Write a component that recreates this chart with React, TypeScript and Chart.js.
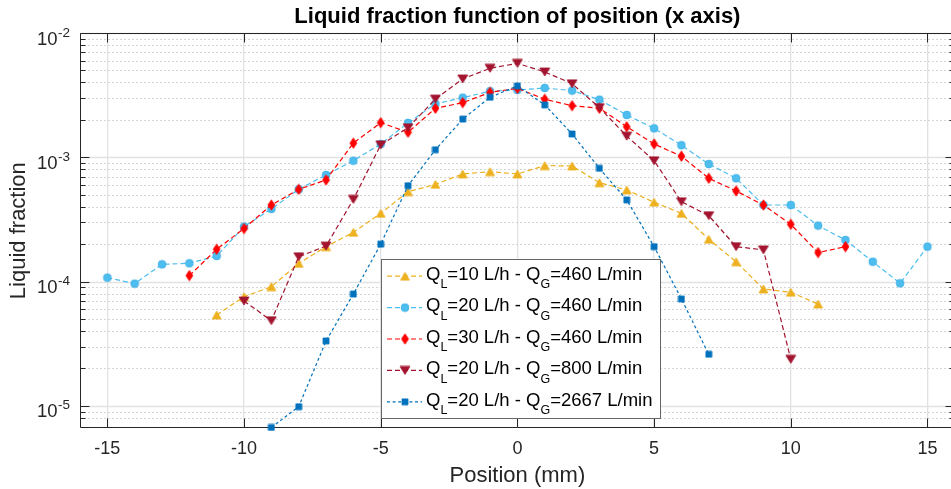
import React, { useEffect, useRef } from 'react';
import { Chart, registerables } from 'chart.js';

Chart.register(...registerables);

const FONT = '"Liberation Sans", Arial, Helvetica, sans-serif';

const TITLE = 'Liquid fraction function of position (x axis)';
const X_LABEL = 'Position (mm)';
const Y_LABEL = 'Liquid fraction';

const qlLabels = ['10', '20', '30', '20', '20'];
const qgLabels = ['460', '460', '460', '800', '2667'];

const posQL10 = [-11, -10, -9, -8, -7, -6, -5, -4, -3, -2, -1, 0, 1, 2, 3, 4, 5, 6, 7, 8, 9, 10, 11];
const valQL10 = [5.38e-5, 7.56e-5, 9.1e-5, 1.4e-4, 1.91e-4, 2.49e-4, 3.54e-4, 5.29e-4, 6.05e-4, 7.34e-4, 7.66e-4, 7.34e-4, 8.57e-4, 8.51e-4, 6.25e-4, 5.46e-4, 4.35e-4, 3.54e-4, 2.19e-4, 1.445e-4, 8.72e-5, 8.2e-5, 6.6e-5];

const posQL20 = [-15, -14, -13, -12, -11, -10, -9, -8, -7, -6, -5, -4, -3, -2, -1, 0, 1, 2, 3, 4, 5, 6, 7, 8, 9, 10, 11, 12, 13, 14, 15];
const valQL20 = [1.076e-4, 9.62e-5, 1.377e-4, 1.403e-4, 1.607e-4, 2.77e-4, 3.84e-4, 5.52e-4, 7.21e-4, 9.39e-4, 1.28e-3, 1.89e-3, 2.69e-3, 3.02e-3, 3.4e-3, 3.48e-3, 3.61e-3, 3.44e-3, 2.91e-3, 2.19e-3, 1.71e-3, 1.25e-3, 8.83e-4, 6.78e-4, 4.13e-4, 4.13e-4, 2.82e-4, 2.16e-4, 1.445e-4, 9.69e-5, 1.91e-4];

const posQL30 = [-12, -11, -10, -9, -8, -7, -6, -5, -4, -3, -2, -1, 0, 1, 2, 3, 4, 5, 6, 7, 8, 9, 10, 11, 12];
const valQL30 = [1.117e-4, 1.82e-4, 2.67e-4, 4.13e-4, 5.52e-4, 6.57e-4, 1.3e-3, 1.9e-3, 1.59e-3, 2.48e-3, 2.75e-3, 3.33e-3, 3.59e-3, 2.93e-3, 2.6e-3, 2.48e-3, 1.76e-3, 1.28e-3, 1.02e-3, 6.78e-4, 5.36e-4, 4.13e-4, 2.89e-4, 1.71e-4, 1.91e-4];

const posQG800 = [-10, -9, -8, -7, -6, -5, -4, -3, -2, -1, 0, 1, 2, 3, 4, 5, 6, 7, 8, 9, 10];
const valQG800 = [6.98e-5, 4.85e-5, 1.585e-4, 1.93e-4, 4.59e-4, 1.26e-3, 1.73e-3, 2.94e-3, 4.27e-3, 5.2e-3, 5.7e-3, 4.86e-3, 3.91e-3, 2.51e-3, 1.48e-3, 9.39e-4, 4.39e-4, 3.39e-4, 1.91e-4, 1.8e-4, 2.37e-5];

const posQG2667 = [-9, -8, -7, -6, -5, -4, -3, -2, -1, 0, 1, 2, 3, 4, 5, 6, 7];
const valQG2667 = [6.7e-6, 9.86e-6, 3.33e-5, 7.94e-5, 2.0e-4, 5.91e-4, 1.15e-3, 2.03e-3, 3.04e-3, 3.75e-3, 2.64e-3, 1.54e-3, 8.15e-4, 4.54e-4, 1.91e-4, 7.24e-5, 2.6e-5];

const X_MIN = -16;
const X_MAX = 16;
const Y_MIN = 6.6e-6;
const Y_MAX = 1e-2;

const seriesColors = ['#EDB120', '#4DBEEE', '#FF0000', '#A2142F', '#0072BD'];
const seriesEdges = ['#EDB120', '#3AADE6', '#FF0000', '#A2142F', '#0072BD'];
const seriesMarkers = ['triUp', 'circle', 'diamond', 'triDown', 'square'];
const seriesDash = [[5, 3], [5, 3], [5, 3], [5, 3], [3, 2.6]];

function makeMarker(kind: string, color: string, edge: string): HTMLCanvasElement {
  const c = document.createElement('canvas');
  const sizes: Record<string, [number, number]> = {
    triUp: [11, 10],
    circle: [10, 10],
    diamond: [9, 12],
    triDown: [12, 10],
    square: [8, 8],
  };
  const [w, h] = sizes[kind];
  c.width = w;
  c.height = h;
  const g = c.getContext('2d')!;
  g.fillStyle = color;
  g.strokeStyle = edge;
  g.lineWidth = 0.8;
  g.beginPath();
  if (kind === 'triUp') {
    g.moveTo(5.5, 1);
    g.lineTo(10, 9);
    g.lineTo(1, 9);
    g.closePath();
  } else if (kind === 'circle') {
    g.arc(5, 5, 3.9, 0, Math.PI * 2);
  } else if (kind === 'diamond') {
    g.moveTo(4.5, 0.8);
    g.lineTo(8, 6);
    g.lineTo(4.5, 11.2);
    g.lineTo(1, 6);
    g.closePath();
  } else if (kind === 'triDown') {
    g.moveTo(1, 1);
    g.lineTo(11, 1);
    g.lineTo(6, 9);
    g.closePath();
  } else {
    g.rect(1, 1, 6, 6);
  }
  g.fill();
  g.stroke();
  return c;
}

function isSignificandInt(v: number) {
  const e = Math.floor(Math.log10(v) + 1e-9);
  const s = v / Math.pow(10, e);
  return { ok: Math.abs(s - Math.round(s)) < 1e-6, s: Math.round(s), e };
}

export default function App() {
  const ref = useRef<HTMLCanvasElement | null>(null);

  useEffect(() => {
    const canvas = ref.current;
    if (!canvas) return;
    const markers = seriesMarkers.map((m, i) => makeMarker(m, seriesColors[i], seriesEdges[i]));
    const allPos = [posQL10, posQL20, posQL30, posQG800, posQG2667];
    const allVal = [valQL10, valQL20, valQL30, valQG800, valQG2667];

    const datasets = allPos.map((pos, i) => ({
      label: `QL=${qlLabels[i]} L/h - QG=${qgLabels[i]} L/min`,
      data: pos.map((p, j) => ({ x: p, y: allVal[i][j] })),
      borderColor: seriesColors[i],
      backgroundColor: seriesColors[i],
      borderWidth: 1.2,
      borderDash: seriesDash[i],
      pointStyle: markers[i],
      pointRadius: 4,
      showLine: true,
      fill: false,
      tension: 0,
      clip: false as any,
      order: 5 - i,
    }));

    const axisColor = '#262626';

    const matlabPlugin = {
      id: 'matlabAxes',
      beforeDatasetsDraw(chart: any) {
        const { ctx, chartArea: a, scales } = chart;
        const x = scales.x;
        const y = scales.y;
        ctx.save();
        for (const t of y.ticks) {
          const info = isSignificandInt(t.value);
          if (!info.ok) continue;
          const py = Math.round(y.getPixelForValue(t.value)) + 0.5;
          if (py < a.top - 0.5 || py > a.bottom + 0.5) continue;
          ctx.beginPath();
          if (info.s === 1) {
            ctx.setLineDash([]);
            ctx.strokeStyle = '#e2e2e2';
            ctx.lineWidth = 1.3;
          } else {
            ctx.setLineDash([2, 2]);
            ctx.strokeStyle = '#d6d6d6';
            ctx.lineWidth = 1;
          }
          ctx.moveTo(a.left, py);
          ctx.lineTo(a.right, py);
          ctx.stroke();
        }
        ctx.setLineDash([]);
        ctx.strokeStyle = axisColor;
        ctx.lineWidth = 1;
        ctx.beginPath();
        const L = Math.round(a.left) + 0.5;
        const T = Math.round(a.top) + 0.5;
        const B = Math.round(a.bottom) - 0.5;
        const R = Math.round(a.right) - 0.5;
        ctx.moveTo(L, T);
        ctx.lineTo(R, T);
        ctx.lineTo(R, B);
        ctx.lineTo(L, B);
        ctx.closePath();
        ctx.stroke();
        ctx.beginPath();
        for (const t of x.ticks) {
          const px = Math.round(x.getPixelForValue(t.value)) + 0.5;
          ctx.moveTo(px, B);
          ctx.lineTo(px, B - 9);
          ctx.moveTo(px, T);
          ctx.lineTo(px, T + 9);
        }
        for (const t of y.ticks) {
          const info = isSignificandInt(t.value);
          if (!info.ok) continue;
          const py = Math.round(y.getPixelForValue(t.value)) + 0.5;
          if (py < a.top - 0.5 || py > a.bottom + 0.5) continue;
          const len = info.s === 1 ? 9 : 5;
          ctx.moveTo(L, py);
          ctx.lineTo(L + len, py);
          ctx.moveTo(R, py);
          ctx.lineTo(R - len, py);
        }
        ctx.stroke();
        ctx.restore();
      },
      afterDraw(chart: any) {
        const { ctx, scales } = chart;
        const y = scales.y;
        ctx.save();
        ctx.fillStyle = axisColor;
        ctx.textBaseline = 'alphabetic';
        ctx.textAlign = 'left';
        for (const t of y.ticks) {
          const info = isSignificandInt(t.value);
          if (!info.ok || info.s !== 1) continue;
          const py = y.getPixelForValue(t.value);
          ctx.font = `18.5px ${FONT}`;
          const baseX = 37;
          ctx.fillText('10', baseX, py + 11.5);
          const w = ctx.measureText('10').width;
          ctx.font = `13.5px ${FONT}`;
          ctx.fillText(String(info.e), baseX + w + 0.5, py + 3.5);
        }
        const bx = 381.5, by = 259.5, bw = 279, bh = 159;
        ctx.fillStyle = '#ffffff';
        ctx.fillRect(bx, by, bw, bh);
        ctx.strokeStyle = '#666666';
        ctx.lineWidth = 1;
        ctx.strokeRect(bx, by, bw, bh);
        for (let i = 0; i < 5; i++) {
          const base = 280 + i * 31.4;
          const rowY = base - 3.8;
          ctx.save();
          ctx.strokeStyle = seriesColors[i];
          ctx.lineWidth = 1.2;
          ctx.setLineDash(seriesDash[i]);
          ctx.beginPath();
          ctx.moveTo(387, rowY);
          ctx.lineTo(422, rowY);
          ctx.stroke();
          ctx.restore();
          const m = markers[i];
          ctx.drawImage(m, 405 - m.width / 2, rowY - m.height / 2);
          const parts: [string, boolean][] = [
            ['Q', false], ['L', true], [`=${qlLabels[i]} L/h - `, false],
            ['Q', false], ['G', true], [`=${qgLabels[i]} L/min`, false],
          ];
          let tx = 426;
          ctx.fillStyle = '#000000';
          for (const [txt, sub] of parts) {
            ctx.font = sub ? `12.5px ${FONT}` : `18.5px ${FONT}`;
            ctx.fillText(txt, tx, sub ? base + 8.3 : base);
            tx += ctx.measureText(txt).width;
          }
        }
        ctx.restore();
      },
    };

    const chart = new Chart(canvas, {
      type: 'line',
      data: { datasets: datasets as any },
      options: {
        responsive: false,
        animation: false,
        devicePixelRatio: 1,
        events: [],
        layout: { padding: 0 },
        plugins: {
          legend: { display: false },
          tooltip: { enabled: false },
          title: {
            display: true,
            text: TITLE,
            fullSize: false,
            color: '#000000',
            font: { family: FONT, size: 22, weight: 'bold' },
            padding: { top: 4, bottom: 2.6 },
          },
        },
        scales: {
          x: {
            type: 'linear',
            min: X_MIN,
            max: X_MAX,
            ticks: {
              stepSize: 5,
              includeBounds: false,
              color: axisColor,
              font: { family: FONT, size: 18 },
              padding: 10,
              maxRotation: 0,
            },
            grid: { color: '#e2e2e2', lineWidth: 1.3, drawTicks: false },
            border: { display: false },
            title: {
              display: true,
              text: X_LABEL,
              color: axisColor,
              font: { family: FONT, size: 22 },
              padding: { top: 0, bottom: 0 },
            },
            afterFit: (s: any) => {
              s.height = 60.7;
            },
          },
          y: {
            type: 'logarithmic',
            min: Y_MIN,
            max: Y_MAX,
            ticks: { display: false },
            grid: { display: false },
            border: { display: false },
            title: {
              display: true,
              text: Y_LABEL,
              color: axisColor,
              font: { family: FONT, size: 22 },
              padding: { top: 6, bottom: 0 },
            },
            afterFit: (s: any) => {
              s.width = 80;
            },
          },
        },
      } as any,
      plugins: [matlabPlugin],
    });

    return () => chart.destroy();
  }, []);

  return (
    <div
      style={{
        position: 'absolute',
        left: 0,
        top: 0,
        width: 951,
        height: 489,
        overflow: 'hidden',
        background: '#ffffff',
      }}
    >
      <canvas ref={ref} width={960} height={489} style={{ display: 'block' }} />
    </div>
  );
}
